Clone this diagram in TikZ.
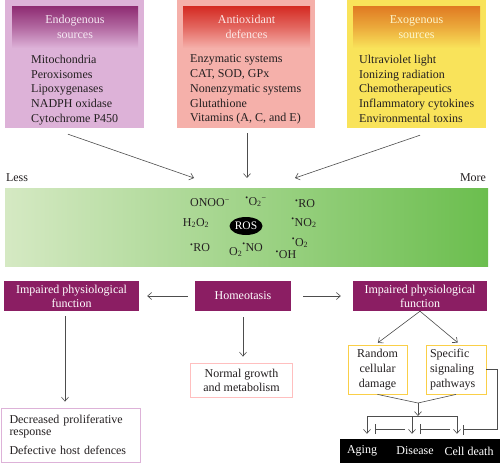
\documentclass[tikz,border=0pt]{standalone}
\usepackage{fontspec}
\setmainfont{Liberation Serif}
\usetikzlibrary{arrows.meta,shapes.geometric}
\tikzset{>={Straight Barb[length=4pt,width=7pt]}}

\definecolor{endofill}{HTML}{DDB2D8}
\definecolor{endodark}{HTML}{8E2B72}
\definecolor{antifill}{HTML}{F5B0AA}
\definecolor{antidark}{HTML}{D42A22}
\definecolor{exofill}{HTML}{F9E35A}
\definecolor{exodark}{HTML}{E07A22}
\definecolor{rosleft}{HTML}{D5E9C3}
\definecolor{rosright}{HTML}{6BBE4E}
\definecolor{plum}{HTML}{8B1E63}
\definecolor{linegray}{HTML}{4D4D4D}
\definecolor{inktext}{HTML}{231F20}

\tikzset{
  srcbox/.style={rectangle,minimum height=128pt,inner sep=0pt},
  headbox/.style={rectangle,minimum height=42pt,inner sep=0pt,align=center},
  listtext/.style={anchor=north west,inner sep=0pt,align=left,text=inktext},
  species/.style={inner sep=0pt,text=inktext},
  plumbox/.style={rectangle,fill=plum,text=white,minimum height=30pt,inner sep=0pt,
    align=center,font=\fontsize{12}{14}\selectfont},
  resultbox/.style={rectangle,draw,fill=white,line width=0.8pt,inner sep=0pt,align=center,text=inktext},
  arr/.style={->,draw=linegray,line width=0.6pt},
  link/.style={draw=linegray,line width=0.6pt},
  inh/.style={-{Bar[width=10pt,line width=0.6pt]},draw=linegray,line width=0.6pt}
}

\begin{document}
\begin{tikzpicture}[x=1pt,y=-1pt,font=\fontsize{12}{14.75}\selectfont]
\useasboundingbox (0,0) rectangle (500,463);

\node[srcbox,fill=endofill,minimum width=139pt] (endo) at (74.5,64) {};
\node[headbox,top color=endodark,bottom color=endofill,middle color=endodark!55!endofill,
  text=endofill!30!white,minimum width=126pt] (endohead) at (75,27) {Endogenous\\sources};
\node[listtext] (endolist) at (31,54.8) {Mitochondria\\Peroxisomes\\Lipoxygenases\\NADPH oxidase\\Cytochrome P450};

\node[srcbox,fill=antifill,minimum width=138pt] (anti) at (246,64) {};
\node[headbox,top color=antidark,bottom color=antifill,middle color=antidark!55!antifill,
  text=antifill!30!white,minimum width=127pt] (antihead) at (246.5,27) {Antioxidant\\defences};
\node[listtext] (antilist) at (190,54.8) {Enzymatic systems\\CAT, SOD, GPx\\Nonenzymatic systems\\Glutathione\\Vitamins (A, C, and E)};

\node[srcbox,fill=exofill,minimum width=139pt] (exo) at (416.5,64) {};
\node[headbox,top color=exodark,bottom color=exofill,middle color=exodark!55!exofill,
  text=exofill!30!white,minimum width=127pt] (exohead) at (416.5,27) {Exogenous\\sources};
\node[listtext] (exolist) at (359,54.8) {Ultraviolet light\\Ionizing radiation\\Chemotherapeutics\\Inflammatory cytokines\\Environmental toxins};

\node[text=inktext,inner sep=0pt] (less) at (17,178) {Less};
\node[text=inktext,inner sep=0pt] (more) at (473,178) {More};

\node[rectangle,left color=rosleft,right color=rosright,minimum width=483pt,minimum height=78pt,inner sep=0pt] (bar) at (246.5,227) {};
\coordinate (tipL) at (194,178);
\coordinate (tipM) at (247,178);
\coordinate (tipR) at (295,178);
\draw[arr] ([shift={(-6.5pt,-6pt)}]endo.south) -- (tipL);
\draw[arr] ([shift={(1pt,-5pt)}]anti.south) -- (tipM);
\draw[arr] ([shift={(3.5pt,-7pt)}]exo.south) -- (tipR);

\node[ellipse,fill=black,text=white,inner sep=0pt,minimum width=33pt,minimum height=18pt,
  font=\fontsize{11.5}{12}\selectfont] (ros) at (246,226) {ROS};
\node[species] (onoo) at (210,203) {ONOO\textsuperscript{−}};
\node[species] (superox) at (256,202) {\textsuperscript{•}O\textsubscript{2}\textsuperscript{−}};
\node[species] (roa) at (305,204) {\textsuperscript{•}RO};
\node[species] (hoh) at (196,223) {H\textsubscript{2}O\textsubscript{2}};
\node[species] (notwo) at (304,223) {\textsuperscript{•}NO\textsubscript{2}};
\node[species] (rob) at (200,248) {\textsuperscript{•}RO};
\node[species] (ono) at (246,250) {O\textsubscript{2}\raisebox{4pt}{\textsuperscript{•}NO}};
\node[species] (otwo) at (300,243) {\textsuperscript{•}O\textsubscript{2}};
\node[species] (oh) at (286,255) {\textsuperscript{•}OH};

\node[plumbox,minimum width=135pt] (impL) at (71.5,296) {Impaired physiological\\function};
\node[plumbox,minimum width=96pt] (homeo) at (243,296) {Homeotasis};
\node[plumbox,minimum width=134pt] (impR) at (420,296) {Impaired physiological\\function};
\draw[arr,shorten <=7pt,shorten >=8pt] (homeo.west) -- (impL.east);
\draw[arr,shorten <=12pt,shorten >=12pt] (homeo.east) -- (impR.west);

\node[resultbox,draw=red!25,minimum width=102pt,minimum height=34pt,font=\fontsize{12}{14}\selectfont] (normal) at (241.5,380) {Normal growth\\and metabolism};
\draw[arr,shorten <=6pt,shorten >=6pt] (homeo.south) -- (homeo.south |- normal.north);

\node[resultbox,draw=endofill,text width=122pt,inner xsep=8.5pt,minimum height=54pt,align=left] (dec) at (70.5,435)
  {Decreased proliferative\\[-2.5pt]response\\[4pt]Defective host defences};
\draw[arr,shorten <=5pt,shorten >=6pt] ([xshift=-6.5pt]impL.south) -- ([xshift=-6.5pt]impL.south |- dec.north);

\node[resultbox,draw=exofill!80!orange,minimum width=59pt,minimum height=49pt] (rand) at (377.5,369.5) {Random\\cellular\\damage};
\node[resultbox,draw=exofill!80!orange,text width=52pt,inner xsep=4pt,minimum height=49pt,align=left] (spec) at (456,369.5) {Specific\\signaling\\pathways};
\draw[arr,shorten >=3pt] (impR.south) -- ([xshift=-2pt]rand.north);
\draw[arr,shorten >=3pt] (impR.south) -- ([xshift=4pt]spec.north);

\node[rectangle,fill=black,minimum width=160pt,minimum height=24pt,inner sep=0pt] (outcome) at (420,451) {};
\node[text=white,inner sep=0pt] (aging) at (362,451) {Aging};
\node[text=white,inner sep=0pt] (disease) at (415,451) {Disease};
\node[text=white,inner sep=0pt] (death) at (469,451) {Cell death};

\coordinate (merge) at (418,403);
\coordinate (barL) at (367,416);
\coordinate (barM) at (412,416);
\coordinate (barR) at (457,416);
\draw[link] (rand.south) -- (merge) -- (spec.south);
\draw[arr] (merge) -- (merge |- barL);
\draw[link] (barL) -- (barR);
\foreach \c in {barL,barM,barR}
\draw[arr,shorten >=5pt] (\c) -- (\c |- outcome.north);
\foreach \c in {barM,barR}
\draw[inh] (\c) ++(-7,13) -- ++(-30,0);
\draw[inh] (spec.east) -- ++(11,0) -- ++(0,60) -- ++(-34,0);
\end{tikzpicture}
\end{document}
